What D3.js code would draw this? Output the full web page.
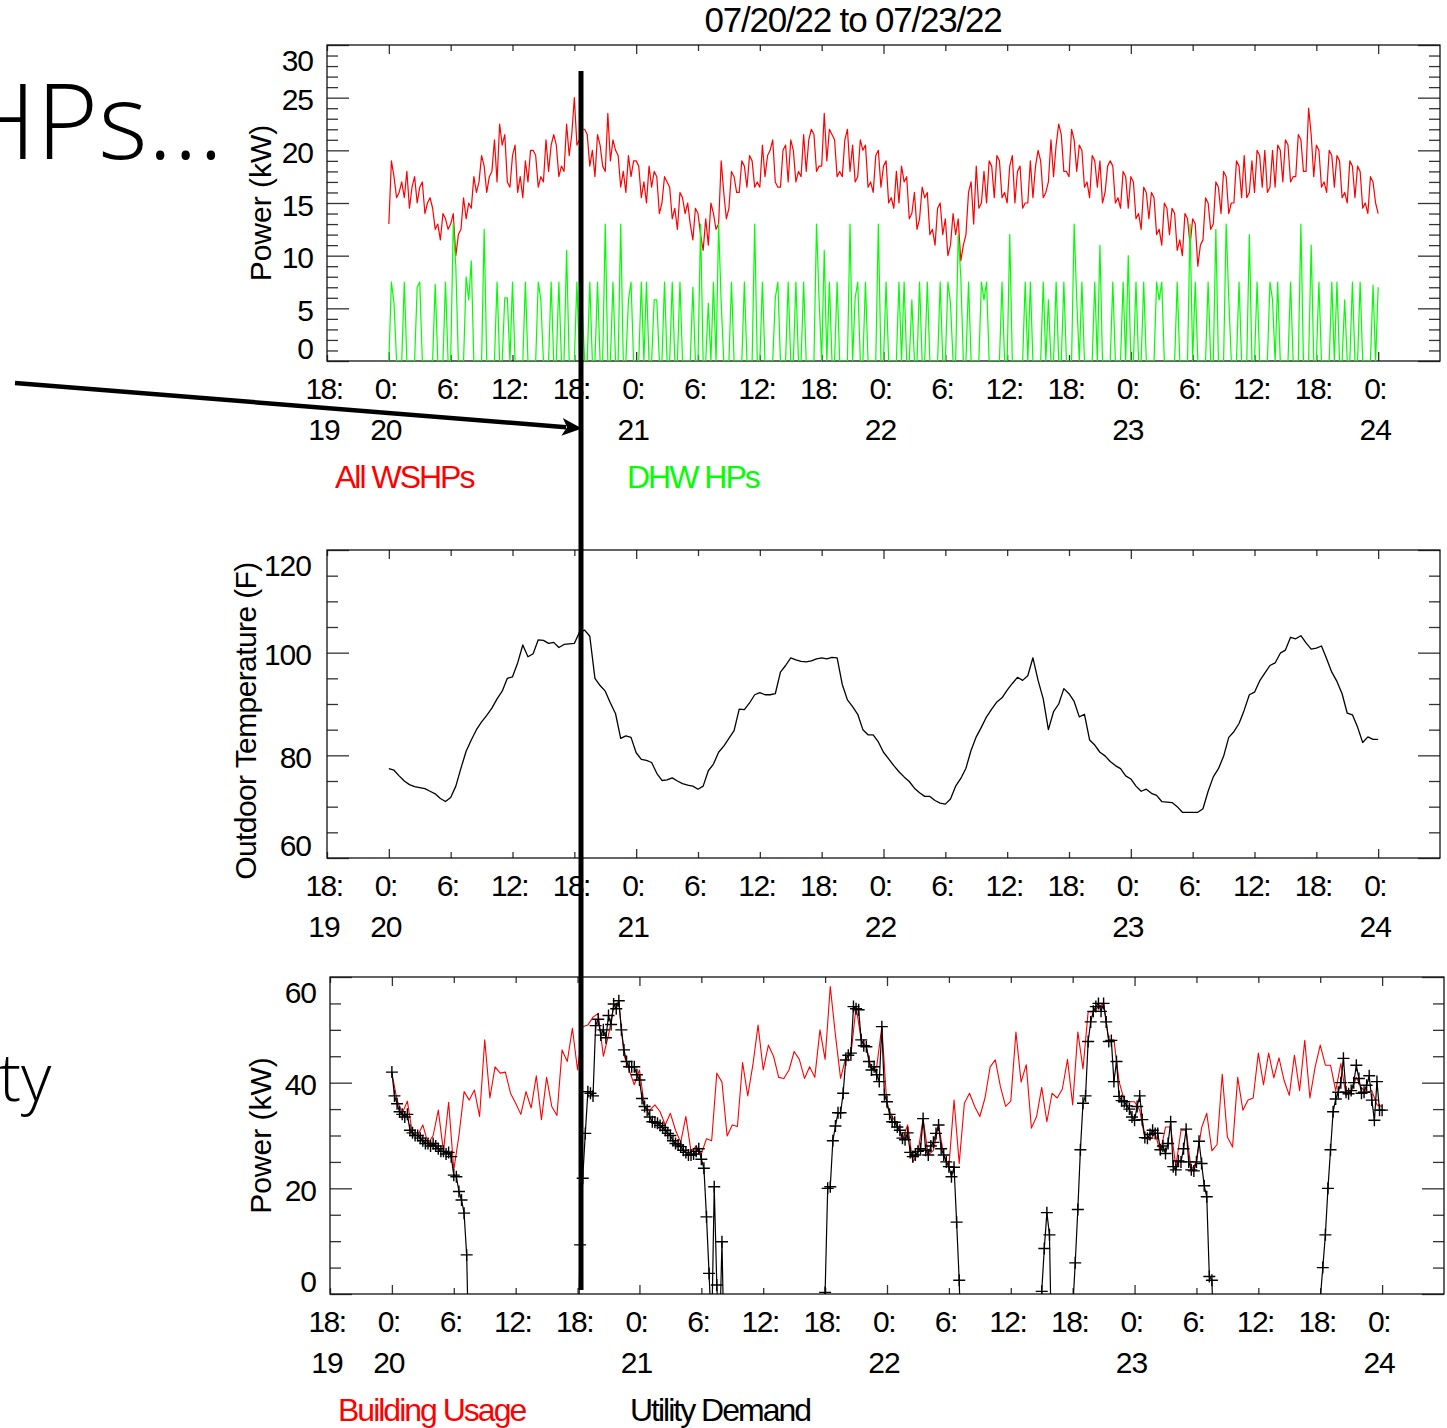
<!DOCTYPE html>
<html>
<head>
<meta charset="utf-8">
<script src="https://cdn.jsdelivr.net/npm/d3@7"></script>
<style>
  html, body { margin: 0; padding: 0; background: #fff; }
  svg { display: block; }
</style>
</head>
<body>
<svg id="chart" width="1447" height="1428"></svg>
<script>
// ---------------------------------------------------------------
// Data: four days of metered building data, 07/20/22 - 07/23/22
// ---------------------------------------------------------------
const titleText = "07/20/22 to 07/23/22";
const seriesLabels = ["All WSHPs", "DHW HPs", "Building Usage", "Utility Demand"];
const axisTitles = ["Power (kW)", "Outdoor Temperature (F)", "Power (kW)"];
const hpTicks = [0, 5, 10, 15, 20, 25, 30];
const tempTicks = [60, 80, 100, 120];
const demandTicks = [0, 20, 40, 60];

// All water-source heat pumps, kW, 15-minute readings from 07/20 00:00
const wshpKW = [
  13,19,17.5,15.5, 16,17,15.5,18, 14.5,16.5,17.5,15, 16.5,17,14,15,
  15.5,14.5,12.5,13, 11.5,14,13.5,12.5, 13,14,10,12, 12.5,15.5,13.5,15,
  14.5,17.5,16,17, 19.5,18.5,16,17.5, 18,21,17,22.5, 20.5,21.5,17,16.5,
  19.5,20.5,16,17.5, 15.5,19,17,20, 20,19.5,16.5,17.5, 17,21,18,20.5,
  21.5,20.5,17.5,18.5, 18,22.5,19.5,21.5, 25,20.5,21,22, 22,21.5,18.5,20,
  17.5,21.5,20.5,18.5, 18,23.5,19,21, 20,19.5,16.5,18, 16,19.5,17.5,19,
  19,18.5,15.5,17, 15,18.5,16.5,18, 17.5,14,15,17.5, 17,16.5,13.5,14.5,
  12.5,16,15.5,14, 15,13,11.5,14.5, 14,12,10.5,13.5, 11,15,14,12.5,
  13,19,16,13.5, 14.5,18,17.5,16, 16,19,18.5,16.5, 19.5,19,16.5,17,
  16.5,20.5,17.5,19.5, 20,21,17,16.5, 16.5,20,20.5,17, 21,20,17,18,
  17.5,21.5,18,21, 22,21.5,18,18.5, 18.5,23.5,19,22, 21.5,21,17.5,18,
  17.5,21,22,18, 20.5,17,17.5,21, 20,20.5,16.5,17, 16,19.5,20,16.5,
  18.5,19,15,15.5, 14.5,18,15,18.5, 17,17.5,13.5,14, 16,12.5,13.5,16.5,
  15.5,16,12,12.5, 11,14.5,15,12, 13.5,10,11,14, 12,13.5,9.5,11,
  12,16,17,13, 18.5,14.5,15,18, 15,19,18.5,15.5, 19.5,19,15.5,16,
  15,18.5,19.5,15, 18,18.5,14.5,15, 15,19,15.5,18.5, 20,19,15.5,16,
  17,21,17.5,20.5, 22.5,21.5,18,18, 17.5,22,21,18, 20.5,20,16.5,17,
  15.5,19.5,19,16.5, 19,15,16,18.5, 19,18.5,15,15.5, 14.5,18,17.5,14.5,
  17.5,17,13.5,14, 12.5,16.5,16,13.5, 16,15.5,12,12.5, 11,15,14.5,12,
  14.5,14,10.5,11.5, 10,14,13.5,11, 13.5,13,9,11, 11.5,15.5,15,12.5,
  13,17,16.5,14, 18,17.5,14,15, 15,19,18.5,15.5, 19.5,15.5,16,19,
  16,20,19.5,16.5, 20,16,16.5,20, 16.5,20.5,20,17, 21,20.5,17,17.5,
  17.5,21.5,21,18, 18,24,21.5,17.5, 20.5,20,16.5,17, 16,20,19.5,16.5,
  19.5,19,15.5,16, 15,19,18.5,15.5, 18.5,18,14.5,15, 14,17.5,17,15,
  14
];

// Domestic hot water heat pumps, kW, 15-minute readings
const dhwKW = [
  0,7.5,5.5,0, 0,0,7.5,0, 0,0,0,7, 7.5,0,0,0,
  0,0,7.3,0, 0,0,7.5,0, 0,13,9,0, 0,0,8,5.8,
  9.5,0,0,0, 0,12.5,0,0, 0,0,7.5,0, 0,6,6,0,
  7.5,0,0,0, 0,7.5,0,0, 0,0,7.5,5.8, 0,0,0,7.5,
  0,0,7.5,0, 0,10.5,0,0, 0,7.5,0,5.5, 0,0,7.5,0,
  0,7.5,0,0, 13,0,0,7.5, 0,0,13,0, 0,5.8,7.5,0,
  0,0,7.5,0, 7.5,0,0,5.8, 5.8,0,0,7.5, 0,0,7.5,0,
  0,7.5,0,0, 0,0,7,0, 0,13,0,0, 5.5,0,7.5,0,
  13,5.5,0,0, 0,7.5,0,0, 0,0,7.5,0, 0,0,13,0,
  0,7.5,0,0, 0,0,6,7.5, 0,0,0,7.5, 0,0,7.5,0,
  0,7.5,0,0, 0,0,13,5.8, 0,10.5,0,7.5, 0,0,7.5,0,
  0,0,0,13, 0,6,7.5,0, 0,7.5,0,0, 0,0,13,0,
  0,7.5,0,0, 0,0,7.5,0, 7.5,0,0,5.8, 0,0,7.5,0,
  0,7.5,0,0, 0,0,7.5,0, 0,7.5,5.5,0, 0,12,8,0,
  0,7.5,0,0, 0,0,7.5,5.8, 7.5,0,0,0, 0,0,7.5,0,
  0,12,0,0, 0,0,0,7.5, 0,7.5,0,0, 0,0,7.5,0,
  5.8,0,0,7.5, 0,0,7.5,0, 0,0,13,5.8, 0,7.5,0,0,
  0,0,7.5,0, 11,0,0,0, 0,7.5,0,0, 0,7.5,0,10,
  0,0,7.5,0, 0,7.5,0,0, 0,0,7.5,5.8, 7.5,0,0,0,
  0,0,7.5,0, 0,0,0,13, 0,7.5,0,0, 0,0,7.5,0,
  0,12.5,0,0, 0,13,6,0, 0,0,7.5,0, 0,0,12,0,
  0,7.5,0,0, 0,0,7.5,5.8, 0,7.5,0,0, 0,0,7.5,0,
  0,0,13,0, 0,0,11,0, 0,7.5,0,0, 0,0,7.5,0,
  7.5,0,0,5.8, 0,0,7.5,0, 0,7.5,0,0, 0,0,7.2,0,
  7
];

// Outdoor air temperature, deg F, 30-minute readings
const outdoorF = [
  77.4,77.1,76,75,74.3,73.9,73.7,73.5,73,72.5,71.6,71,
  71.8,74,77.5,80.8,83,85,86.5,87.8,89.2,91,92.5,95,
  95.3,98,101.5,99.2,99.8,102.5,102.4,101.8,102,101,101.6,101.7,
  101.8,104,104.4,103.2,95,93.6,92.5,90.2,88.1,83.3,83.8,83.5,
  80.5,79.2,79,78.6,76.5,75.1,75.2,75.6,75,74.5,74.2,74,
  73.4,74,77,78.3,80.6,81.8,83.3,84.8,89,88.9,90.2,91.8,
  92.2,91.8,91.8,92,96.2,97.5,99,98.6,98.3,98.2,98.4,98.8,
  99,98.8,99.1,99,93.8,90.8,89.5,88,85,84,84,82.6,
  80.6,79.3,78,76.8,75.8,74.9,73.6,72.7,72,72,71.2,70.7,
  70.5,71.5,74,75.5,77.5,81,83.6,85.5,87.5,89,90.4,91.2,
  92.7,94,95.2,94.6,95.5,99,94.6,91,85,88.5,90,93,
  92,90.5,87.5,88,83,82,80.6,79.9,78.8,78,77.4,76,
  75.4,74,73,73.4,72.6,72.2,71,70.9,70.8,70,68.9,68.9,
  68.9,68.9,69.6,73,75.8,77.4,79.8,83.5,84.6,86.2,88.8,91.8,
  92.3,94.5,96,97.5,98,99.9,100.5,103,102.7,103.3,101.9,100.7,
  100.9,101.3,98.8,96.2,94.4,92,88.2,87.9,85.5,82.5,83.6,83.1,
  83.1
];

// Whole-building usage, kW, 30-minute readings
const buildingKW = [
  41.8,36.7,34.2,36.5,30.2,30,32,28.5,30,34.8,27,36.3,
  23.5,30,38.3,36.7,38.6,33.6,48.1,37.1,43,41.8,42,38,
  36.1,34,38.3,35.2,41.3,33,41,35.5,33.8,46.2,44,50.3,
  42.4,50.6,50.9,52.4,53.1,45,49,54.4,55.3,45.2,42.4,39.6,
  42.4,35.4,34.8,35.8,34.5,32,34.2,31,28.7,33.6,27,28,
  26.5,29.4,29,41.8,40.1,29.9,32,31.7,43.8,37.5,43.4,50.9,
  42.4,47.1,45,41,40.8,42.4,45.9,44.4,40.8,43,41,50,
  44.4,58.2,49,40.8,44.8,45.2,54.4,48.1,46.8,42.4,43,50.6,
  35.5,33.6,32,29.2,32,25,26.8,33.2,26.3,27.2,32,26.3,
  24.1,36.7,24.7,36.1,38,35.5,33.6,37.1,43,44.3,39.2,35.5,
  36.5,49.6,40.1,43.4,31.4,33.6,39.1,32.6,38,37.1,38.8,44.4,
  35.8,49.6,42.6,53.4,53.4,54.4,55,48.1,48.1,40.2,36.7,36.4,
  36.4,34.8,29.5,29.2,30.4,26.8,31.6,31.6,24.1,31,31,23.5,
  25,31.5,34.2,27.1,28.3,41.6,29.7,27.8,41,34.8,36.7,37.1,
  45.6,39.6,45.6,40.9,44.7,40.4,37.6,45.2,38.5,48,37.1,42.9,
  47.1,43.3,43.3,38.5,43.6,37.6,38.2,41,39,38.2,38.5,35.8,
  35.5
];

// Net utility demand, kW, 15-minute readings (negative = below the plotted range)
const utilityKW = [
  42,37.5,36,34.5, 34,33.5,34,31, 30.5,30,30,29.5, 29,28.5,28.5,28,
  28.5,28,27.5,27, 27,26.5,26.8,26, 22.5,22.2,19.4,17.8, 15.3,7.4,-15,-15,
  -15,-15,-15,-15, -15,-15,-15,-15, -15,-15,-15,-15, -15,-15,-15,-15,
  -15,-15,-15,-15, -15,-15,-15,-15, -15,-15,-15,-15, -15,-15,-15,-15,
  -15,-15,-15,-15, -15,-15,-15,-15, -15,9.3,21.9,30.4, 38.3,38,37.5,50.8,
  52,49,50,48.5, 52.7,51,54.9,54, 55.5,50,46.2,44, 43,43,43,41.5,
  40.5,37,35.5,34.8, 33.5,32.6,32.5,32.3, 31.9,31.5,31,30.4, 30,29,28.5,28.2,
  27.9,27.2,26.8,26.3, 26.3,26.5,27,27.5, 25.5,23.8,14.6,3.9, -8,20.3,1.7,-10,
  9.9,-15,-15,-15, -15,-15,-15,-15, -15,-15,-15,-15, -15,-15,-15,-15,
  -15,-15,-15,-15, -15,-15,-15,-15, -15,-15,-15,-15, -15,-15,-15,-15,
  -15,-15,-15,-15, -15,-15,-15,-15, 0.3,20,20.3,29, 31.8,34.3,34.3,38,
  44.3,45.2,45.6,54.4, 54,53.8,48.1,47, 46.8,44,42.4,43, 41.5,40.2,50.6,37.7,
  36.4,34,32.6,32.5, 31.6,31,29.5,29.2, 30.5,26.8,26,26.3, 27,27.5,33.2,27.2,
  26.3,28,28.7,30.4, 32,27.5,26.3,25, 24.1,22.2,24,13.6, 2.6,-15,-15,-15,
  -15,-15,-15,-15, -15,-15,-15,-15, -15,-15,-15,-15, -15,-15,-15,-15,
  -15,-15,-15,-15, -15,-15,-15,-15, -15,-15,-15,-15, 0.5,8.6,15.4,11.2,
  -15,-15,-15,-15, -15,-15,-15,-15, -3,5.9,16,27.3, 36.1,37.5,47.8,51.5,
  53.5,54.4,55,53.5, 55,51.5,47.8,48, 40.2,44,37.4,36.6, 36.4,35.6,35,33.5,
  32.9,35.5,37.5,33, 29.6,29.5,30.2,31, 30.4,30.4,27.3,28, 26.6,28.5,32.6,24.1,
  23.5,25.2,25,27.5, 31.2,25,23.5,23.3, 25,28.9,24.7,20.5, 18.4,3.3,2.6,-15,
  -15,-15,-15,-15, -15,-15,-15,-15, -15,-15,-15,-15, -15,-15,-15,-15,
  -15,-15,-15,-15, -15,-15,-15,-15, -15,-15,-15,-15, -15,-15,-15,-15,
  -15,-15,-15,-15, -15,-15,-15,-15, -1,5,11.2,20, 27.3,34.5,36.9,38.2,
  40,44.6,38.2,37.9, 38.5,40,43.3,40.8, 38,38.2,39.5,41.3, 36.7,32.9,40.2,34.8,
  34.8
];

// ---------------------------------------------------------------
// Time axis
// ---------------------------------------------------------------
const dataStart = new Date(2022, 6, 20, 0, 0);
const viewStart = new Date(2022, 6, 19, 18, 0);
const viewEnd = new Date(2022, 6, 24, 6, 0);
const stamped = (values, stepMin) =>
  values.map((v, i) => ({ t: d3.timeMinute.offset(dataStart, i * stepMin), v }));

const FONT = '"Liberation Sans", Arial, Helvetica, sans-serif';
const RED = "#ff0000", GREEN = "#00ff00";
const hourFmt = d3.timeFormat("%-H");
const dayFmt = d3.timeFormat("%-d");

const svg = d3.select("#chart");
const defs = svg.append("defs");

// Panel geometry
const panels = [
  { id: "hp",   left: 327, right: 1440, top: 45,  bottom: 361,  yDomain: [0, 30],   major: hpTicks,     minorStep: 1, labelGap: 14, title: axisTitles[0], titleX: 260 },
  { id: "temp", left: 327, right: 1440, top: 550, bottom: 858,  yDomain: [60, 120], major: tempTicks,   minorStep: 5, labelGap: 16, title: axisTitles[1], titleX: 245 },
  { id: "util", left: 330, right: 1444, top: 977, bottom: 1294, yDomain: [0, 60],   major: demandTicks, minorStep: 5, labelGap: 14, title: axisTitles[2], titleX: 260 }
];

function drawPanel(p) {
  const x = d3.scaleTime().domain([viewStart, viewEnd]).range([p.left, p.right]);
  const y = d3.scaleLinear().domain(p.yDomain).range([p.bottom, p.top]);

  defs.append("clipPath").attr("id", "clip-" + p.id).append("rect")
    .attr("x", p.left).attr("y", p.top)
    .attr("width", p.right - p.left).attr("height", p.bottom - p.top);

  const g = svg.append("g");
  const styleTicks = s => {
    s.select(".domain").remove();
    s.selectAll("text").remove();
    s.selectAll("line").attr("stroke", "#333").attr("stroke-width", 1.3);
  };

  const minor = d3.range(p.yDomain[0], p.yDomain[1] + 1e-9, p.minorStep)
    .filter(v => p.major.indexOf(v) < 0);
  [[p.major, 22], [minor, 11]].forEach(([vals, len]) => {
    g.append("g").attr("transform", `translate(${p.left},0)`)
      .call(d3.axisLeft(y).tickValues(vals).tickSize(-len).tickSizeOuter(0))
      .call(styleTicks);
    g.append("g").attr("transform", `translate(${p.right},0)`)
      .call(d3.axisRight(y).tickValues(vals).tickSize(-len).tickSizeOuter(0))
      .call(styleTicks);
  });

  const sixHour = d3.timeHour.every(6).range(viewStart, viewEnd);
  const midnights = sixHour.filter(d => d.getHours() === 0);
  const others = sixHour.filter(d => d.getHours() !== 0);
  [[others, 6], [midnights, 9]].forEach(([vals, len]) => {
    g.append("g").attr("transform", `translate(0,${p.top})`)
      .call(d3.axisTop(x).tickValues(vals).tickSize(-len).tickSizeOuter(0))
      .call(styleTicks);
    g.append("g").attr("transform", `translate(0,${p.bottom})`)
      .call(d3.axisBottom(x).tickValues(vals).tickSize(-len).tickSizeOuter(0))
      .call(styleTicks);
  });

  g.append("rect")
    .attr("x", p.left).attr("y", p.top)
    .attr("width", p.right - p.left).attr("height", p.bottom - p.top)
    .attr("fill", "none").attr("stroke", "#111").attr("stroke-width", 1.3);

  // y tick labels; the end labels are pulled inside the frame
  const yl = g.append("g").attr("font-family", FONT).attr("font-size", 30)
    .attr("text-anchor", "end").attr("fill", "#000");
  p.major.forEach(v => {
    let by = y(v) + 12.7;
    if (v === p.yDomain[1]) by = p.top + 25.5;
    if (v === p.yDomain[0]) by = p.bottom - 2;
    yl.append("text").attr("x", p.left - p.labelGap).attr("y", by)
      .style("letter-spacing", "-1px").text(v);
  });

  // two-row time labels: hour on the first row, day of month on the second
  const xl = g.append("g").attr("font-family", FONT).attr("font-size", 30)
    .attr("text-anchor", "middle").attr("fill", "#000");
  sixHour.forEach((d, i) => {
    xl.append("text").attr("x", x(d) - 3).attr("y", p.bottom + 38)
      .style("letter-spacing", "-1.5px").text(hourFmt(d) + ":");
    if (i === 0 || d.getHours() === 0) {
      xl.append("text").attr("x", x(d) - 3).attr("y", p.bottom + 79)
        .style("letter-spacing", "-1px").text(dayFmt(d));
    }
  });

  svg.append("text")
    .attr("transform", `translate(${p.titleX},${(p.top + p.bottom) / 2 + (p.id === "temp" ? 17 : 0)}) rotate(-90)`)
    .attr("text-anchor", "middle").attr("dominant-baseline", "central")
    .attr("font-family", FONT).attr("font-size", 30)
    .style("letter-spacing", p.id === "temp" ? "-0.6px" : "0px")
    .text(p.title);

  const plot = svg.append("g").attr("clip-path", `url(#clip-${p.id})`);
  return { x, y, plot, p };
}

const lineOf = (x, y) => d3.line().x(d => x(d.t)).y(d => y(d.v));

// Title
svg.append("text").attr("x", 853).attr("y", 32).attr("text-anchor", "middle")
  .attr("font-family", FONT).attr("font-size", 35)
  .style("letter-spacing", "-1.2px").text(titleText);

// Panel 1: heat pump power
const hp = drawPanel(panels[0]);
hp.plot.append("path").datum(stamped(wshpKW, 15))
  .attr("d", lineOf(hp.x, hp.y)).attr("fill", "none")
  .attr("stroke", RED).attr("stroke-width", 1.2).attr("stroke-linejoin", "round");
hp.plot.append("path").datum(stamped(dhwKW, 15))
  .attr("d", lineOf(hp.x, hp.y)).attr("fill", "none")
  .attr("stroke", GREEN).attr("stroke-width", 1.2).attr("stroke-linejoin", "round");

// Panel 2: outdoor temperature
const tp = drawPanel(panels[1]);
tp.plot.append("path").datum(stamped(outdoorF, 30))
  .attr("d", lineOf(tp.x, tp.y)).attr("fill", "none")
  .attr("stroke", "#000").attr("stroke-width", 1.3).attr("stroke-linejoin", "round");

// Panel 3: building usage vs. utility demand
const up = drawPanel(panels[2]);
up.plot.append("path").datum(stamped(buildingKW, 30))
  .attr("d", lineOf(up.x, up.y)).attr("fill", "none")
  .attr("stroke", RED).attr("stroke-width", 1.1).attr("stroke-linejoin", "round");
const demand = stamped(utilityKW, 15);
up.plot.append("path").datum(demand)
  .attr("d", lineOf(up.x, up.y)).attr("fill", "none")
  .attr("stroke", "#000").attr("stroke-width", 1.2).attr("stroke-linejoin", "round");
up.plot.append("g").selectAll("path")
  .data(demand.filter(d => d.v >= 0 && d.v <= 60))
  .join("path")
  .attr("transform", d => `translate(${up.x(d.t)},${up.y(d.v)})`)
  .attr("d", "M-6,0H6M0,-6V6")
  .attr("stroke", "#000").attr("stroke-width", 1.4);

// Legends
const legend = (label, color, lx, ly) =>
  svg.append("text").attr("x", lx).attr("y", ly)
    .attr("font-family", FONT).attr("font-size", 32).attr("fill", color)
    .style("letter-spacing", "-2px").text(label);
legend(seriesLabels[0], RED, 335, 488);
legend(seriesLabels[1], GREEN, 627, 488);
legend(seriesLabels[2], RED, 338, 1421);
legend(seriesLabels[3], "#000", 630, 1421);

// Slide annotations around the charts
svg.append("text").attr("x", -40).attr("y", 159)
  .attr("font-family", '"Open Sans", "Noto Sans", sans-serif')
  .attr("font-weight", 300).attr("font-size", 106).attr("fill", "#000")
  .text("HPs...");
svg.append("text").attr("x", -1).attr("y", 1101)
  .attr("font-family", '"Open Sans", "Noto Sans", sans-serif')
  .attr("font-weight", 300).attr("font-size", 66).attr("fill", "#000")
  .text("ty");

// Time marker across all three panels
svg.append("line").attr("x1", 581).attr("x2", 581).attr("y1", 71).attr("y2", 1290)
  .attr("stroke", "#000").attr("stroke-width", 5);

// Pointer arrow
const ax0 = 15, ay0 = 383, ax1 = 582, ay1 = 428.5;
const ang = Math.atan2(ay1 - ay0, ax1 - ax0);
const headLen = 20, headHalf = 9;
const bx = ax1 - headLen * Math.cos(ang), by = ay1 - headLen * Math.sin(ang);
svg.append("line").attr("x1", ax0).attr("y1", ay0)
  .attr("x2", bx + 4 * Math.cos(ang)).attr("y2", by + 4 * Math.sin(ang))
  .attr("stroke", "#000").attr("stroke-width", 4.5);
const nx = -Math.sin(ang), ny = Math.cos(ang);
const notch = 5;
svg.append("path")
  .attr("d", `M${ax1},${ay1}` +
    `L${bx + headHalf * nx},${by + headHalf * ny}` +
    `L${bx + notch * Math.cos(ang)},${by + notch * Math.sin(ang)}` +
    `L${bx - headHalf * nx},${by - headHalf * ny}Z`)
  .attr("fill", "#000");
</script>
</body>
</html>
